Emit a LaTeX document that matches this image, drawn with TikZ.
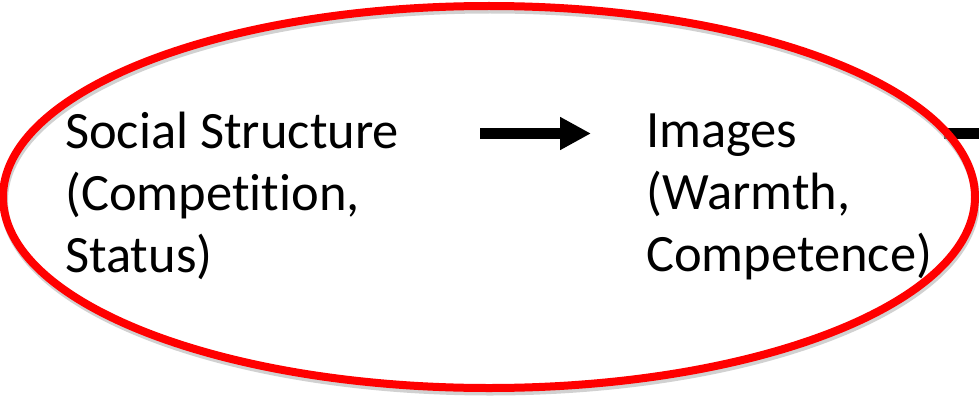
\documentclass[tikz,border=0pt]{standalone}
\usepackage{fontspec}
\setmainfont[Ligatures=NoCommon]{Carlito}
\usetikzlibrary{arrows.meta}
\tikzset{
  lbl/.style={anchor=base west, align=left, inner sep=0pt, font=\fontsize{52.5}{62}\selectfont},
  bigarrow/.style={line width=11pt, -{Triangle[length=31pt,width=31pt]}},
  oval/.style={draw=red, line width=8pt},
  ovalshadow/.style={draw=black!30, line width=8pt, opacity=0.6}
}
\begin{document}
\begin{tikzpicture}[x=1pt,y=-1pt]
\useasboundingbox (0,0) rectangle (979,396);
% partial arrow at right edge (behind the oval)
\coordinate (rs) at (944,133.5);
\coordinate (re) at (985,133.5);
\draw[line width=11pt] (rs) -- (re);
% oval with shadow
\draw[ovalshadow] (490,200.5) ellipse [x radius=486, y radius=191];
\draw[oval] (489,197) ellipse [x radius=486, y radius=191];
% texts
\node[lbl] (ss) at (65,272) {Social Structure\\(Competition,\\Status)};
\node[lbl] (im) at (646,271) {Images\\(Warmth,\\Competence)};
% arrow
\coordinate (as) at (480,133.5);
\coordinate (ae) at (591,133.5);
\draw[bigarrow] (as) -- (ae);
\end{tikzpicture}
\end{document}
